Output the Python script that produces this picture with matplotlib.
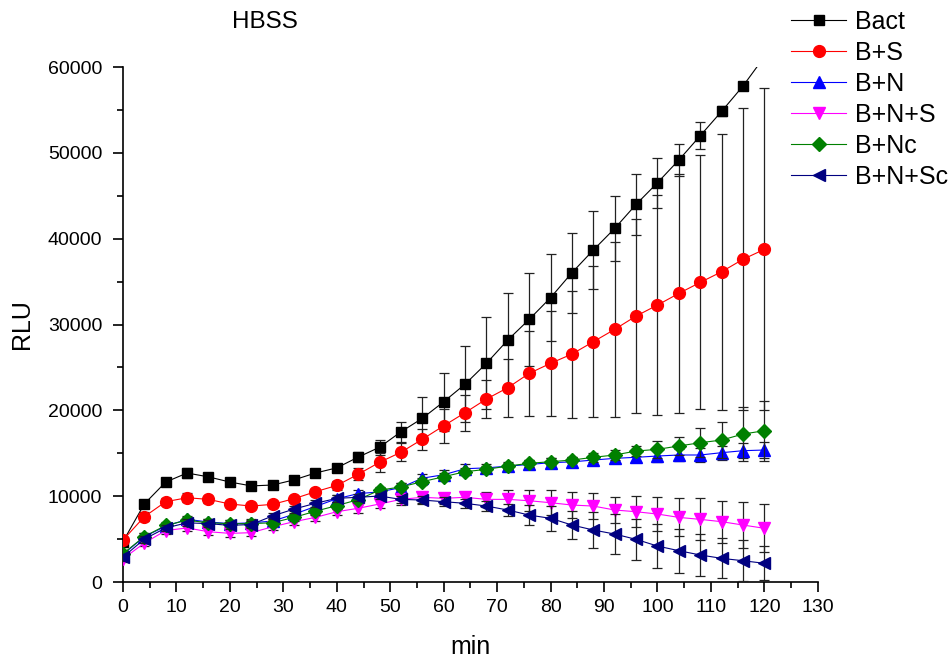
"""HBSS luminescence time course: RLU vs min for six treatments, with error bars."""
import numpy as np
import matplotlib.pyplot as plt
from matplotlib.ticker import MultipleLocator

plt.rcParams['font.family'] = ['Liberation Sans', 'DejaVu Sans']

minutes = np.arange(0, 121, 4)

bact = [4700, 9100, 11650, 12700, 12250, 11650, 11200, 11300, 11900, 12700, 13300, 14550,
        15700, 17500, 19070, 21000, 23050, 25480, 28200, 30600, 33130, 36040, 38680, 41200,
        44000, 46520, 49170, 52000, 54840, 57790, 61200]
bact_err = [400, 500, 400, 600, 400, 400, 400, 400, 400, 500, 500, 600,
            900, 1160, 2450, 3380, 4430, 5360, 5430, 5440, 5090, 4660, 4580, 3770,
            3540, 2920, 1820, 1560, 600, 500, 500]

bs = [4890, 7610, 9360, 9820, 9630, 9090, 8850, 9050, 9710, 10520, 11250, 12550,
      13950, 15120, 16630, 18200, 19730, 21320, 22640, 24310, 25480, 26560, 28000, 29440,
      30990, 32270, 33630, 34910, 36150, 37600, 38760]
bs_err = [300, 500, 400, 500, 400, 400, 400, 300, 300, 300, 500, 700,
          1100, 1040, 1200, 2000, 2100, 2210, 3380, 4930, 6100, 7400, 8800, 10200,
          11260, 12800, 13900, 14800, 16100, 17600, 18760]

bn = [3200, 5300, 6500, 7300, 7000, 6800, 6900, 7100, 7900, 8800, 9700, 10300,
      10500, 11000, 12100, 12500, 13200, 13300, 13500, 13700, 13900, 14000, 14210, 14410,
      14530, 14680, 14800, 14800, 15070, 15300, 15380]
bn_err = [400, 400, 400, 400, 400, 400, 400, 400, 400, 400, 400, 400,
          400, 500, 500, 500, 500, 500, 500, 500, 500, 600, 600, 600,
          600, 700, 700, 800, 800, 900, 900]

bns = [2700, 4540, 6000, 6300, 5860, 5670, 5750, 6440, 7030, 7530, 8190, 8590,
       9090, 9630, 9870, 9750, 9870, 9630, 9630, 9470, 9240, 8970, 8850, 8390,
       8190, 7920, 7530, 7300, 7030, 6640, 6260]
bns_err = [400, 400, 400, 400, 400, 400, 400, 400, 400, 400, 400, 500,
           500, 600, 650, 650, 650, 900, 1090, 1250, 1480, 1500, 1550, 1550,
           1830, 1950, 2220, 2450, 2440, 2680, 2800]

bnc = [3300, 5300, 6600, 7200, 6900, 6800, 6800, 6910, 7530, 8250, 8900, 9600,
       10700, 11080, 11690, 12270, 12850, 13130, 13510, 13830, 14020, 14210, 14530, 14800,
       15260, 15460, 15850, 16230, 16540, 17240, 17630]
bnc_err = [400, 400, 400, 400, 400, 400, 400, 400, 400, 400, 400, 400,
           400, 400, 400, 400, 400, 400, 400, 400, 400, 400, 500, 600,
           620, 1000, 1000, 1670, 2140, 3150, 3490]

bnsc = [2900, 5000, 6300, 6900, 6800, 6600, 6700, 7700, 8500, 9170, 9750, 9870,
        10020, 9630, 9550, 9360, 9170, 8850, 8390, 7800, 7420, 6640, 6060, 5590,
        4970, 4190, 3650, 3150, 2760, 2480, 2180]
bnsc_err = [400, 400, 400, 400, 400, 400, 400, 400, 400, 400, 400, 400,
            400, 400, 450, 500, 550, 600, 700, 1160, 1440, 1670, 2130, 2330,
            2410, 2590, 2570, 2450, 2330, 2360, 2000]

series = [
    ('Bact', bact, bact_err, '#000000', 's', 7.5),
    ('B+S', bs, bs_err, '#ff0000', 'o', 8.5),
    ('B+N', bn, bn_err, '#0000ff', '^', 8.5),
    ('B+N+S', bns, bns_err, '#ff00ff', 'v', 8.5),
    ('B+Nc', bnc, bnc_err, '#008000', 'D', 7.5),
    ('B+N+Sc', bnsc, bnsc_err, '#000080', '<', 8.5),
]

fig = plt.figure(figsize=(9.51, 6.59), dpi=100)
ax = fig.add_axes([0.1293, 0.1168, 0.7307, 0.7815])

handles = []
for i, (name, y, err, col, mk, ms) in enumerate(series):
    ax.errorbar(minutes, y, yerr=err, fmt='none', ecolor='#222222', elinewidth=0.9,
                capsize=3.5, capthick=0.9, zorder=2 + i)
    h, = ax.plot(minutes, y, color=col, lw=0.8, marker=mk, ms=ms,
                 mec=col, mfc=col, zorder=3 + i, label=name)
    handles.append(h)

ax.set_xlim(0, 130)
ax.set_ylim(0, 60000)
ax.xaxis.set_major_locator(MultipleLocator(10))
ax.xaxis.set_minor_locator(MultipleLocator(5))
ax.yaxis.set_major_locator(MultipleLocator(10000))
ax.yaxis.set_minor_locator(MultipleLocator(5000))
ax.tick_params(which='major', direction='out', length=7, width=1.2, labelsize=14)
ax.tick_params(axis='y', which='major', pad=8)
ax.tick_params(axis='x', which='major', pad=5)
ax.tick_params(which='minor', direction='out', length=4, width=1.2)
for s in ['top', 'right']:
    ax.spines[s].set_visible(False)
for s in ['left', 'bottom']:
    ax.spines[s].set_linewidth(1.2)

ax.set_xlabel('min', fontsize=18, labelpad=14)
ax.set_ylabel('RLU', fontsize=18, labelpad=10)
fig.text(0.279, 0.967, 'HBSS', fontsize=17.5, ha='center', va='center')

fig.legend(handles=handles, loc='upper left', bbox_to_anchor=(0.832, 0.985),
           frameon=False, fontsize=18, handlelength=2.2, labelspacing=0.28,
           handletextpad=0.35, borderaxespad=0, borderpad=0)

fig.savefig('out.png', dpi=100)
